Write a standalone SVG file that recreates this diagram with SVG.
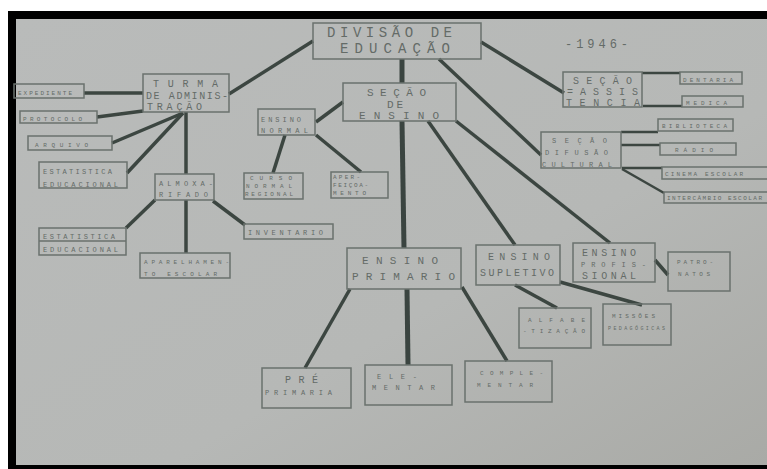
<svg xmlns="http://www.w3.org/2000/svg" width="767" height="469" viewBox="0 0 767 469">
<defs>
<linearGradient id="paper" x1="0" y1="0" x2="1" y2="1">
<stop offset="0" stop-color="#b9bbba"/>
<stop offset="0.6" stop-color="#b6b8b6"/>
<stop offset="1" stop-color="#a9aaa6"/>
</linearGradient>
<style>
.b{fill:none;stroke:#6a716d;stroke-width:1.5}
.c{fill:none;stroke:#3c4641;stroke-width:3.5;stroke-linecap:butt}
.cs{fill:none;stroke:#3c4641;stroke-width:2.5}
.ct{fill:none;stroke:#3a4440;stroke-width:5}
text{font-family:"Liberation Mono","DejaVu Sans Mono",monospace;fill:#646b67}
.t1{font-size:14px}
.t2{font-size:11px}
.t3{font-size:10px}
.t4{font-size:7px}
.t5{font-size:6px}
</style>
</defs>
<rect x="0" y="0" width="767" height="469" fill="#ffffff"/>
<rect x="8" y="11" width="759" height="458" fill="#000000"/>
<rect x="16" y="19" width="751" height="446" fill="url(#paper)"/>

<g id="connectors">
<line class="c" x1="229" y1="94" x2="313" y2="41"/>
<line class="ct" x1="402" y1="59" x2="402" y2="83"/>
<line class="c" x1="481" y1="42" x2="564" y2="93"/>
<line class="c" x1="439" y1="59" x2="541" y2="155"/>
<line class="c" x1="343" y1="102" x2="316" y2="122"/>
<line class="c" x1="285" y1="135" x2="273" y2="173"/>
<line class="c" x1="316" y1="135" x2="361" y2="172"/>
<line class="ct" x1="402" y1="121" x2="404" y2="248"/>
<line class="c" x1="428" y1="121" x2="515" y2="245"/>
<line class="c" x1="456" y1="121" x2="610" y2="243"/>
<line class="c" x1="350" y1="289" x2="305" y2="368"/>
<line class="ct" x1="407" y1="289" x2="408" y2="365"/>
<line class="c" x1="462" y1="287" x2="507" y2="361"/>
<line class="c" x1="515" y1="285" x2="557" y2="308"/>
<line class="c" x1="560" y1="282" x2="642" y2="305"/>
<line class="c" x1="655" y1="260" x2="668" y2="275"/>
<line class="cs" x1="642" y1="73" x2="680" y2="73"/>
<line class="cs" x1="643" y1="106" x2="682" y2="106"/>
<line class="cs" x1="621" y1="132" x2="658" y2="132"/>
<line class="cs" x1="621" y1="145" x2="660" y2="145"/>
<line class="cs" x1="622" y1="168" x2="662" y2="168"/>
<line class="cs" x1="622" y1="169" x2="664" y2="193"/>
<line class="c" x1="84" y1="93" x2="143" y2="93"/>
<line class="c" x1="97" y1="117" x2="143" y2="111"/>
<line class="c" x1="112" y1="143" x2="183" y2="113"/>
<line class="c" x1="127" y1="173" x2="183" y2="113"/>
<line class="c" x1="186" y1="112" x2="186" y2="174"/>
<line class="c" x1="186" y1="200" x2="186" y2="253"/>
<line class="c" x1="155" y1="200" x2="126" y2="228"/>
<line class="c" x1="213" y1="201" x2="245" y2="225"/>
</g>

<g id="divisao">
<rect class="b" x="313" y="23" width="168" height="36"/>
<text class="t1" x="327" y="37" textLength="125" lengthAdjust="spacing">DIVISÃO DE</text>
<text class="t1" x="340" y="53" textLength="110" lengthAdjust="spacing">EDUCAÇÃO</text>
</g>
<g id="ano">
<text x="565" y="48" font-size="12" textLength="63" lengthAdjust="spacing">-1946-</text>
</g>

<g id="secao-ensino">
<rect class="b" x="343" y="83" width="113" height="38"/>
<text class="t2" x="367" y="96" textLength="59" lengthAdjust="spacing">SEÇÃO</text>
<text class="t2" x="387" y="108" textLength="16" lengthAdjust="spacing">DE</text>
<text class="t2" x="359" y="119" textLength="80" lengthAdjust="spacing">ENSINO</text>
</g>

<g id="ensino-normal">
<rect class="b" x="258" y="109" width="57" height="26"/>
<text class="t4" x="261" y="122" textLength="40" lengthAdjust="spacing">ENSINO</text>
<text class="t4" x="261" y="133" textLength="47" lengthAdjust="spacing">NORMAL</text>
</g>
<g id="curso-normal">
<rect class="b" x="244" y="173" width="59" height="26"/>
<text class="t5" x="250" y="180" textLength="42" lengthAdjust="spacing">CURSO</text>
<text class="t5" x="246" y="188" textLength="46" lengthAdjust="spacing">NORMAL</text>
<text class="t5" x="245" y="196" textLength="48" lengthAdjust="spacing">REGIONAL</text>
</g>
<g id="aperfeicoamento">
<rect class="b" x="331" y="172" width="57" height="26"/>
<text class="t5" x="333" y="179" textLength="27" lengthAdjust="spacing">APER-</text>
<text class="t5" x="333" y="187" textLength="35" lengthAdjust="spacing">FEIÇOA-</text>
<text class="t5" x="333" y="195" textLength="33" lengthAdjust="spacing">MENTO</text>
</g>

<g id="turma">
<rect class="b" x="143" y="74" width="86" height="38"/>
<text class="t3" x="153" y="87" textLength="65" lengthAdjust="spacing">TURMA</text>
<text class="t3" x="146" y="99" textLength="82" lengthAdjust="spacing">DE ADMINIS-</text>
<text class="t3" x="147" y="110" textLength="55" lengthAdjust="spacing">TRAÇÃO</text>
</g>
<g id="expediente">
<rect class="b" x="14" y="84" width="70" height="14"/>
<text class="t5" x="18" y="95" textLength="54" lengthAdjust="spacing">EXPEDIENTE</text>
</g>
<g id="protocolo">
<rect class="b" x="20" y="111" width="77" height="12"/>
<text class="t5" x="23" y="121" textLength="59" lengthAdjust="spacing">PROTOCOLO</text>
</g>
<g id="arquivo">
<rect class="b" x="28" y="136" width="84" height="14"/>
<text class="t5" x="35" y="147" textLength="53" lengthAdjust="spacing">ARQUIVO</text>
</g>
<g id="estatistica1">
<rect class="b" x="39" y="162" width="88" height="26"/>
<text class="t4" x="43" y="174" textLength="69" lengthAdjust="spacing">ESTATISTICA</text>
<text class="t4" x="43" y="187" textLength="75" lengthAdjust="spacing">EDUCACIONAL</text>
</g>
<g id="almoxarifado">
<rect class="b" x="155" y="174" width="59" height="26"/>
<text class="t4" x="159" y="186" textLength="54" lengthAdjust="spacing">ALMOXA-</text>
<text class="t4" x="159" y="197" textLength="49" lengthAdjust="spacing">RIFADO</text>
</g>
<g id="estatistica2">
<rect class="b" x="39" y="228" width="87" height="27"/>
<line class="b" x1="39" y1="241" x2="126" y2="241"/>
<text class="t4" x="43" y="239" textLength="72" lengthAdjust="spacing">ESTATISTICA</text>
<text class="t4" x="43" y="252" textLength="75" lengthAdjust="spacing">EDUCACIONAL</text>
</g>
<g id="inventario">
<rect class="b" x="244" y="224" width="89" height="15"/>
<text class="t4" x="248" y="235" textLength="75" lengthAdjust="spacing">INVENTARIO</text>
</g>
<g id="aparelhamento">
<rect class="b" x="140" y="253" width="90" height="25"/>
<text class="t5" x="144" y="264" textLength="85" lengthAdjust="spacing">APARELHAMEN-</text>
<text class="t5" x="144" y="276" textLength="73" lengthAdjust="spacing">TO ESCOLAR</text>
</g>

<g id="assistencia">
<rect class="b" x="563" y="72" width="79" height="35"/>
<text class="t3" x="573" y="84" textLength="59" lengthAdjust="spacing">SEÇÃO</text>
<text class="t3" x="567" y="95" textLength="71" lengthAdjust="spacing">=ASSIS</text>
<text class="t3" x="566" y="106" textLength="74" lengthAdjust="spacing">TENCIA</text>
</g>
<g id="dentaria">
<rect class="b" x="680" y="72" width="62" height="12"/>
<text class="t5" x="683" y="82" textLength="50" lengthAdjust="spacing">DENTARIA</text>
</g>
<g id="medica">
<rect class="b" x="682" y="96" width="61" height="11"/>
<text class="t5" x="686" y="105" textLength="41" lengthAdjust="spacing">MEDICA</text>
</g>
<g id="difusao">
<rect class="b" x="541" y="132" width="80" height="36"/>
<text class="t4" x="552" y="143" textLength="55" lengthAdjust="spacing">SEÇÃO</text>
<text class="t4" x="545" y="155" textLength="63" lengthAdjust="spacing">DIFUSÃO</text>
<text class="t4" x="542" y="167" textLength="70" lengthAdjust="spacing">CULTURAL</text>
</g>
<g id="biblioteca">
<rect class="b" x="658" y="119" width="75" height="12"/>
<text class="t5" x="662" y="128" textLength="65" lengthAdjust="spacing">BIBLIOTECA</text>
</g>
<g id="radio">
<rect class="b" x="660" y="143" width="76" height="12"/>
<text class="t5" x="675" y="152" textLength="38" lengthAdjust="spacing">RÁDIO</text>
</g>
<g id="cinema">
<rect class="b" x="662" y="167" width="108" height="12"/>
<text class="t5" x="665" y="176" textLength="78" lengthAdjust="spacing">CINEMA ESCOLAR</text>
</g>
<g id="intercambio">
<rect class="b" x="664" y="192" width="106" height="11"/>
<text class="t5" x="667" y="200" textLength="95" lengthAdjust="spacing">INTERCÂMBIO ESCOLAR</text>
</g>

<g id="primario">
<rect class="b" x="347" y="248" width="114" height="41"/>
<text class="t2" x="362" y="264" textLength="76" lengthAdjust="spacing">ENSINO</text>
<text class="t2" x="352" y="280" textLength="103" lengthAdjust="spacing">PRIMARIO</text>
</g>
<g id="supletivo">
<rect class="b" x="476" y="245" width="84" height="40"/>
<text class="t3" x="488" y="260" textLength="62" lengthAdjust="spacing">ENSINO</text>
<text class="t3" x="480" y="276" textLength="74" lengthAdjust="spacing">SUPLETIVO</text>
</g>
<g id="profissional">
<rect class="b" x="573" y="243" width="82" height="39"/>
<text class="t3" x="582" y="256" textLength="54" lengthAdjust="spacing">ENSINO</text>
<text class="t4" x="581" y="267" textLength="65" lengthAdjust="spacing">PROFIS-</text>
<text class="t3" x="582" y="279" textLength="54" lengthAdjust="spacing">SIONAL</text>
</g>
<g id="patronatos">
<rect class="b" x="668" y="252" width="62" height="39"/>
<text class="t5" x="677" y="264" textLength="36" lengthAdjust="spacing">PATRO-</text>
<text class="t5" x="678" y="276" textLength="32" lengthAdjust="spacing">NATOS</text>
</g>
<g id="alfabetizacao">
<rect class="b" x="519" y="308" width="72" height="40"/>
<text class="t5" x="528" y="322" textLength="57" lengthAdjust="spacing">ALFABE</text>
<text class="t5" x="523" y="333" textLength="62" lengthAdjust="spacing">-TIZAÇÃO</text>
</g>
<g id="missoes">
<rect class="b" x="603" y="304" width="68" height="41"/>
<text class="t5" x="612" y="318" textLength="43" lengthAdjust="spacing">MISSÕES</text>
<text x="608" y="330" font-size="5" textLength="57" lengthAdjust="spacing">PEDAGÓGICAS</text>
</g>
<g id="pre-primaria">
<rect class="b" x="262" y="368" width="89" height="40"/>
<text class="t3" x="285" y="383" textLength="33" lengthAdjust="spacing">PRÉ</text>
<text class="t4" x="265" y="395" textLength="67" lengthAdjust="spacing">PRIMARIA</text>
</g>
<g id="elementar">
<rect class="b" x="365" y="365" width="87" height="40"/>
<text class="t4" x="377" y="379" textLength="40" lengthAdjust="spacing">ELE-</text>
<text class="t4" x="372" y="390" textLength="63" lengthAdjust="spacing">MENTAR</text>
</g>
<g id="complementar">
<rect class="b" x="465" y="361" width="87" height="41"/>
<text class="t5" x="480" y="375" textLength="63" lengthAdjust="spacing">COMPLE-</text>
<text class="t5" x="477" y="387" textLength="56" lengthAdjust="spacing">MENTAR</text>
</g>
</svg>
